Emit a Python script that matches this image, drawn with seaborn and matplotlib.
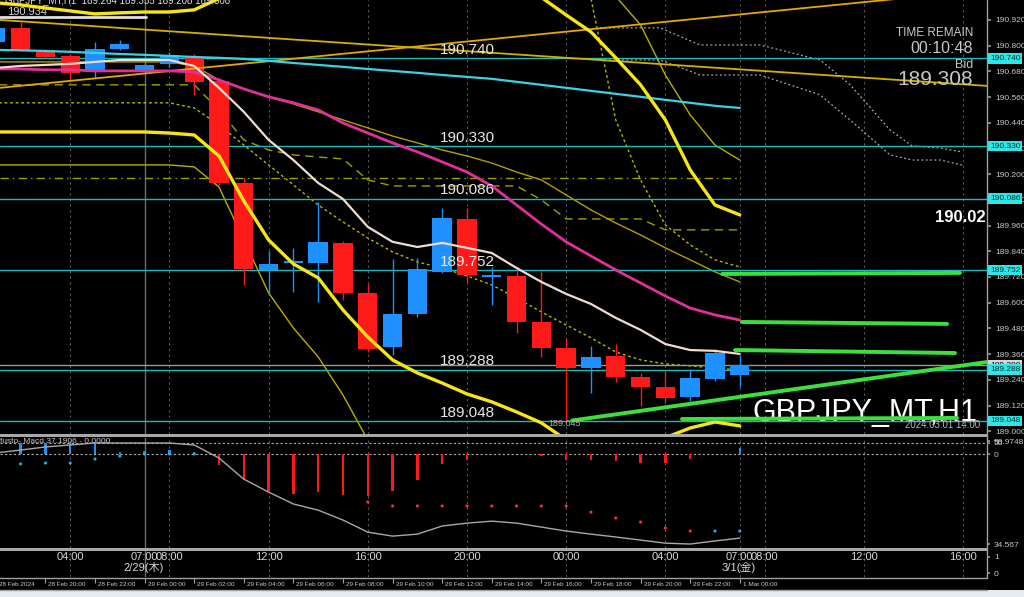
import numpy as np
import pandas as pd
import seaborn as sns
import matplotlib.pyplot as plt
from matplotlib.patches import Rectangle
from matplotlib.lines import Line2D

# GBPJPY H1 (MT4 screenshot). hour 0 = 29 Feb 00:00 server time = 2/29 07:00 JST
hours = list(range(-6, 25))

opens = [190.817, 190.883, 190.775, 190.752, 190.677, 190.785, 190.682, 190.715, 190.747, 190.635,
         190.159, 189.753, 189.786, 189.786, 189.879, 189.646, 189.393, 189.547, 189.744, 189.991,
         189.722, 189.725, 189.510, 189.389, 189.295, 189.351, 189.253, 189.207, 189.160, 189.244, 189.264]
highs = [190.900, 190.911, 190.782, 190.760, 190.817, 190.827, 190.720, 190.770, 190.760, 190.650,
         190.182, 189.842, 189.856, 190.070, 189.890, 189.688, 189.804, 189.809, 190.042, 190.042,
         189.767, 189.753, 189.748, 189.431, 189.398, 189.407, 189.272, 189.281, 189.290, 189.384, 189.355]
lows = [190.800, 190.775, 190.740, 190.640, 190.649, 190.780, 190.670, 190.700, 190.570, 190.150,
        189.683, 189.636, 189.650, 189.603, 189.613, 189.370, 189.356, 189.533, 189.740, 189.692,
        189.590, 189.459, 189.347, 189.045, 189.179, 189.230, 189.118, 189.132, 189.141, 189.235, 189.208]
closes = [190.883, 190.780, 190.747, 190.673, 190.785, 190.808, 190.710, 190.757, 190.631, 190.159,
          189.758, 189.781, 189.795, 189.884, 189.646, 189.384, 189.547, 189.758, 189.996, 189.730,
          189.728, 189.510, 189.389, 189.295, 189.347, 189.253, 189.207, 189.155, 189.249, 189.365, 189.308]

# indicator lines (read per candle)
ma_pink = [190.691, 190.691, 190.687, 190.687, 190.682, 190.682, 190.682, 190.682, 190.677, 190.640,
           190.598, 190.561, 190.533, 190.500, 190.439, 190.392, 190.346, 190.304, 190.257, 190.210,
           190.145, 190.056, 189.967, 189.884, 189.818, 189.753, 189.692, 189.631, 189.575, 189.543, 189.519]
ma_white = [190.696, 190.705, 190.710, 190.715, 190.724, 190.733, 190.733, 190.733, 190.705, 190.603,
            190.491, 190.360, 190.266, 190.159, 190.084, 189.954, 189.884, 189.860, 189.879, 189.856,
            189.832, 189.762, 189.697, 189.641, 189.594, 189.529, 189.473, 189.407, 189.379, 189.375, 189.361]
ma_cyan = [190.780, 190.778, 190.775, 190.771, 190.766, 190.761, 190.757, 190.752, 190.747, 190.743,
           190.738, 190.729, 190.719, 190.710, 190.701, 190.691, 190.682, 190.673, 190.663, 190.654,
           190.645, 190.631, 190.617, 190.603, 190.589, 190.575, 190.561, 190.547, 190.533, 190.519, 190.509]
ma_olive = [190.724, 190.724, 190.724, 190.724, 190.724, 190.724, 190.724, 190.724, 190.705, 190.640,
            190.598, 190.561, 190.528, 190.491, 190.453, 190.416, 190.378, 190.346, 190.313, 190.285,
            190.252, 190.210, 190.173, 190.103, 190.033, 189.972, 189.916, 189.856, 189.800, 189.744, 189.697]
ma_dotted = [190.533, 190.533, 190.533, 190.533, 190.533, 190.533, 190.533, 190.533, 190.509, 190.430,
             190.336, 190.243, 190.150, 190.056, 189.977, 189.902, 189.837, 189.790, 189.762, 189.725,
             189.683, 189.622, 189.557, 189.496, 189.436, 189.370, 189.333, 189.314, 189.305, 189.295, 189.286]
step_dash = [190.617, 190.617, 190.617, 190.617, 190.617, 190.617, 190.617, 190.617, 190.617, 190.500,
             190.360, 190.313, 190.290, 190.280, 190.271, 190.173, 190.145, 190.145, 190.145, 190.145,
             190.145, 190.145, 190.080, 189.991, 189.991, 189.991, 189.991, 189.940, 189.940, 189.940, 189.940]
bb_up = [191.000, 190.990, 190.976, 190.962, 190.948, 190.953, 190.957, 190.957, 190.967, 191.020] \
    + [np.nan] * 12 + [191.025, 190.943, 190.864, 190.743, 190.617, 190.453, 190.220, 190.056, 190.010]
bb_dn = [190.397, 190.397, 190.397, 190.397, 190.397, 190.397, 190.397, 190.392, 190.383, 190.285,
         190.075, 189.893, 189.781, 189.716, 189.566, 189.440, 189.333, 189.272, 189.225, 189.174,
         189.137, 189.090, 189.039, 188.960, np.nan, np.nan, np.nan, 188.970, 189.015, 189.043, 189.025]
bb2_up = [np.nan] * 25 + [191.030, 190.897, 190.663, 190.477, 190.336, 190.266]
bb2_dn = [190.243, 190.243, 190.243, 190.243, 190.243, 190.243, 190.243, 190.243, 190.234, 190.140,
          189.893, 189.646, 189.482, 189.347, 189.169, 188.959] + [np.nan] * 15
dots_up = [np.nan] * 24 + [191.020, 190.453, 190.173, 189.963, 189.870, 189.800, 189.767]

# straight objects
trend_hours = [-5.83, 33.97]
trend_rise = [190.603, 191.060]
trend_fall = [190.920, 190.612]
dash_level = 190.182
levels = [190.740, 190.330, 190.086, 189.752, 189.288, 189.048]
bid = 189.308
high_line = 190.934

green_hours = [(23.29, 32.88), (24.09, 32.36), (23.81, 32.68), (17.24, 33.97), (21.67, 32.76)]
green_prices = [(189.734, 189.739), (189.510, 189.501), (189.379, 189.365), (189.050, 189.323), (189.057, 189.062)]

cloud_hours = [18.37, 20.79, 22.40, 24.82, 27.24, 28.45, 30.06, 30.95, 32.08, 32.96]
cloud_a = [190.883, 190.883, 190.803, 190.803, 190.733, 190.617, 190.406, 190.332, 190.322, 190.304]
cloud_b = [190.733, 190.733, 190.663, 190.663, 190.570, 190.453, 190.290, 190.266, 190.266, 190.243]

# MACD sub window
macd_hist = [50, 52, 50, 50, 50, 9, 14, 18, 9, -48, -117, -170, -180, -174, -185, -192, -170, -117,
             -45, -26, -2, -2, -8, -26, -26, -33, -41, -41, -23, 2, 27]
macd_line = [5, 18, 32, 41, 50, 50, 50, 50, 41, -18, -114, -173, -227, -255, -300, -355, -373, -364,
             -327, -314, -305, -314, -332, -350, -364, -377, -391, -405, -409, -395, -382]
macd_sig = [-45, -45, -41, -41, -23, -9, 0, 0, 0] + [np.nan] * 6 + [-218] + [-236] * 8 \
    + [-264, -291, -309, -336, -350, -350, -350]

price_ticks = [189.000, 189.120, 189.240, 189.360, 189.480, 189.600, 189.720, 189.840, 189.960,
               190.080, 190.200, 190.320, 190.440, 190.560, 190.680, 190.800, 190.920]

time_ticks = [-3, 0, 1, 5, 9, 13, 17, 21, 24, 25, 29, 33]
time_labels = ["04:00", "07:00", "08:00", "12:00", "16:00", "20:00", "00:00", "04:00", "07:00", "08:00", "12:00", "16:00"]
date_ticks = [0, 24]
date_labels = ["2/29(木)", "3/1(金)"]
srv_ticks = list(range(-6, 25, 2))
srv_labels = ["28 Feb 2024", "28 Feb 20:00", "28 Feb 22:00", "29 Feb 00:00", "29 Feb 02:00", "29 Feb 04:00",
              "29 Feb 06:00", "29 Feb 08:00", "29 Feb 10:00", "29 Feb 12:00", "29 Feb 14:00", "29 Feb 16:00",
              "29 Feb 18:00", "29 Feb 20:00", "29 Feb 22:00", "1 Mar 00:00"]

X0, X1 = -5.83, 33.97
P0, P1 = 188.987, 191.013

sns.set_theme(style="dark", rc={"axes.facecolor": "black", "figure.facecolor": "black"})
plt.rcParams["font.family"] = ["Liberation Sans", "Noto Sans CJK JP", "DejaVu Sans"]

TXT = "#C8C8C8"
GRID = "#5A5A5A"


def draw_line(ax, xs, ys, **kw):
    d = pd.DataFrame({"x": xs, "y": ys})
    run = d["y"].isna().cumsum()
    ok = d["y"].notna()
    for _, seg in d[ok].groupby(run[ok]):
        if len(seg) > 1:
            sns.lineplot(data=seg, x="x", y="y", ax=ax, estimator=None, sort=False, **kw)


fig = plt.figure(figsize=(10.24, 5.97), dpi=100)
fig.patch.set_facecolor("black")
W = 987 / 1024
ax = fig.add_axes([0, 163 / 597, W, 434 / 597])
ax_m = fig.add_axes([0, 49 / 597, W, 110 / 597])
ax_t = fig.add_axes([0, 20 / 597, W, 26 / 597])
ax_b = fig.add_axes([0, 7 / 597, W, 12 / 597])

for a in (ax, ax_m, ax_t, ax_b):
    a.set_facecolor("black")
    a.set_xlim(X0, X1)
    a.set_xticks([])
    for s in a.spines.values():
        s.set_visible(False)

# vertical grid
for a in (ax, ax_m, ax_t):
    for h in [-3, 1, 5, 9, 13, 17, 21, 24, 25, 29, 33]:
        a.axvline(h, color=GRID, lw=0.8, ls=(0, (2, 3)), zorder=0)
    a.axvline(0, color="#6E6E6E", lw=1, zorder=0)

# ---------------- main price window ----------------
draw_line(ax, trend_hours, trend_rise, color="#E6A800", lw=1.3, zorder=3)
draw_line(ax, trend_hours, trend_fall, color="#D4B000", lw=1.3, zorder=3)
ax.axhline(dash_level, xmax=(24 - X0) / (X1 - X0), color="#9AA000", lw=1, ls=(0, (6, 3, 1, 3)), zorder=1)
draw_line(ax, hours, step_dash, color="#A0A000", lw=1, linestyle=(0, (6, 4)), zorder=1)
draw_line(ax, hours, ma_olive, color="#B4A000", lw=1, zorder=1)
draw_line(ax, hours, ma_dotted, color="#B8B800", lw=1, linestyle=(0, (2, 2)), zorder=1)
draw_line(ax, hours, dots_up, color="#B8B800", lw=1, linestyle=(0, (2, 2)), zorder=1)
draw_line(ax, hours, bb2_up, color="#B8B000", lw=1, zorder=1)
draw_line(ax, hours, bb2_dn, color="#B8B000", lw=1, zorder=1)
draw_line(ax, cloud_hours, cloud_a, color="#A8A8A8", lw=0.9, linestyle=(0, (1.5, 2)), zorder=1)
draw_line(ax, cloud_hours, cloud_b, color="#A8A8A8", lw=0.9, linestyle=(0, (1.5, 2)), zorder=1)

for lvl in levels:
    ax.axhline(lvl, color="#22B8B8", lw=1, zorder=1)
    ax.annotate(f"{lvl:.3f}", xy=(11.9, lvl), xytext=(0, 1), textcoords="offset points",
                color="#E8E8E8", fontsize=11, va="bottom", ha="left", zorder=6)
ax.axhline(bid, color="#9A9A9A", lw=1, zorder=1)
ax.plot([X0, 0.05], [high_line, high_line], color="#E0E0E0", lw=2, zorder=3)
ax.text(-5.55, 190.957, "190.934", color="#D0D0D0", fontsize=8, va="center", ha="left")

# candles
cdl = pd.DataFrame({"hour": hours, "open": opens, "high": highs, "low": lows, "close": closes})
cols = np.where(cdl["close"] >= cdl["open"], "#1E90FF", "#FF1A1A")
ax.vlines(cdl["hour"], cdl["low"], cdl["high"], colors=cols, lw=1, zorder=2)
ax.bar(cdl["hour"], np.maximum((cdl["close"] - cdl["open"]).abs(), 0.006),
       bottom=cdl[["open", "close"]].min(axis=1), width=0.78, color=cols, linewidth=0, zorder=2)

draw_line(ax, hours, ma_cyan, color="#3CD2E6", lw=1.6, zorder=3)
draw_line(ax, hours, ma_pink, color="#E0309A", lw=2, zorder=3)
draw_line(ax, hours, ma_white, color="#F0DCD0", lw=1.6, zorder=3)
draw_line(ax, hours, bb_up, color="#F5E614", lw=2.4, zorder=3)
draw_line(ax, hours, bb_dn, color="#F5E614", lw=2.4, zorder=3)

for (h0, h1), (p0, p1) in zip(green_hours, green_prices):
    draw_line(ax, [h0, h1], [p0, p1], color="#3CE03C", lw=2.8, zorder=5)

ax.set_xlim(X0, X1)
ax.set_ylim(P0, P1)
ax.set_xlabel("")
ax.set_ylabel("")
ax.yaxis.tick_right()
ax.set_yticks(price_ticks)
ax.set_yticklabels([f"{p:.3f}" for p in price_ticks])
ax.tick_params(axis="y", colors="#909090", labelcolor=TXT, labelsize=6, length=3, pad=3, direction="out")

ytr = ax.get_yaxis_transform()
ax.text(1.003, bid, f"{bid:.3f}", transform=ytr, fontsize=6, color="black", va="center", ha="left",
        bbox=dict(boxstyle="square,pad=0.2", fc="#D8D8D8", ec="none"), clip_on=False, zorder=7)
for lvl in levels:
    ax.text(1.003, lvl, f"{lvl:.3f}", transform=ytr, fontsize=6, color="#0A3030", va="center", ha="left",
            bbox=dict(boxstyle="square,pad=0.2", fc="#2EE6E6", ec="none"), clip_on=False, zorder=8)

ax.text(-5.63, 1.0, "GBPJPY_MT,H1  189.264 189.355 189.208 189.308", transform=ax.get_xaxis_transform(),
        fontsize=7, color="#E0E0E0", va="center", ha="left", zorder=6)
ax.text(33.41, 190.859, "TIME REMAIN", fontsize=8.5, color=TXT, ha="right", va="center", zorder=6)
ax.text(33.41, 190.785, "00:10:48", fontsize=11.5, color=TXT, ha="right", va="center", zorder=6)
ax.text(33.41, 190.710, "Bid", fontsize=9, color=TXT, ha="right", va="center", zorder=6)
ax.text(33.41, 190.640, "189.308", fontsize=15, color=TXT, ha="right", va="center", zorder=6)
ax.text(31.87, 189.996, "190.02", fontsize=12, fontweight="bold", color="white", ha="left", va="center",
        clip_on=True, zorder=6)
ax.text(24.5, 189.085, "GBPJPY_MT,H1", fontsize=22, color="white", ha="left", va="center", zorder=4)
ax.text(30.67, 189.030, "2024.03.01 14:00", fontsize=7, color="#B8B8B8", ha="left", va="center", zorder=6)
ax.text(16.3, 189.034, "189.045", fontsize=6.5, color="#B0B0B0", ha="left", va="center", zorder=6)

# ---------------- MACD window ----------------
mac = pd.DataFrame({"hour": hours, "hist": macd_hist, "line": macd_line, "sig": macd_sig})
mcol = np.where(mac["hist"] >= 0, "#1E90FF", "#FF1A1A")
ax_m.bar(mac["hour"], mac["hist"], width=0.1, color=mcol, linewidth=0, zorder=2)
sns.lineplot(data=mac, x="hour", y="line", ax=ax_m, color="#A8A8A8", lw=1, estimator=None, zorder=3)
sig = mac.dropna(subset=["sig"])
sns.scatterplot(x=sig["hour"], y=sig["sig"], ax=ax_m, color=np.where(sig["hist"] >= 0, "#20B0E0", "#FF3030"),
                s=5, linewidth=0, zorder=3)
ax_m.axhline(50, color="#B0B0B0", lw=0.8, ls=(0, (2, 2)), zorder=1)
ax_m.axhline(0, color="#B0B0B0", lw=0.8, ls=(0, (2, 2)), zorder=1)
ax_m.set_xlim(X0, X1)
ax_m.set_ylim(-427, 72.7)
ax_m.set_xlabel("")
ax_m.set_ylabel("")
ax_m.yaxis.tick_right()
ax_m.set_yticks([59, 50, 0, -409])
ax_m.set_yticklabels(["58.9748", "50", "0", "34.567"])
ax_m.tick_params(axis="y", colors="#909090", labelcolor=TXT, labelsize=6, length=2, pad=3)
ax_m.text(X0, 59, "fusto- Macd 37.1906 - 0.0000", fontsize=6, color=TXT, va="center", ha="left")

# ---------------- time label window ----------------
ax_t.set_ylim(0, 1)
ax_t.yaxis.tick_right()
ax_t.set_yticks([0.15, 0.77])
ax_t.set_yticklabels(["0", "1"])
ax_t.tick_params(axis="y", colors="#909090", labelcolor=TXT, labelsize=6, length=2, pad=3)
for h, lab in zip(time_ticks, time_labels):
    ax_t.text(h, 0.77, lab, fontsize=8, color="#D8D8D8", ha="center", va="center")
for h, lab in zip(date_ticks, date_labels):
    ax_t.text(h - 0.05, 0.36, lab, fontsize=8, color="#D8D8D8", ha="center", va="center")

# ---------------- server time strip ----------------
ax_b.set_ylim(0, 1)
ax_b.set_yticks([])
ax_b.vlines(srv_ticks, 0.6, 1.0, color="#A0A0A0", lw=0.8)
for h, lab in zip(srv_ticks, srv_labels):
    ax_b.text(h + 0.12, 0.45, lab, fontsize=4.6, color="#C8C8C8", ha="left", va="center")

# window frame
fig.add_artist(Rectangle((0, 160 / 597), W, 3 / 597, transform=fig.transFigure, fc="#A8A8A8", ec="none"))
fig.add_artist(Rectangle((0, 46 / 597), W, 3 / 597, transform=fig.transFigure, fc="#A8A8A8", ec="none"))
fig.add_artist(Line2D([0, W], [19.5 / 597, 19.5 / 597], transform=fig.transFigure, color="#A0A0A0", lw=1))
fig.add_artist(Line2D([0, W], [7.5 / 597, 7.5 / 597], transform=fig.transFigure, color="#A0A0A0", lw=1))
fig.add_artist(Line2D([W, W], [19 / 597, 1], transform=fig.transFigure, color="#A0A0A0", lw=1))
fig.add_artist(Rectangle((0, 0), 1, 7 / 597, transform=fig.transFigure, fc="#E6ECF2", ec="none"))

fig.savefig("out.png", dpi=100, facecolor="black")
